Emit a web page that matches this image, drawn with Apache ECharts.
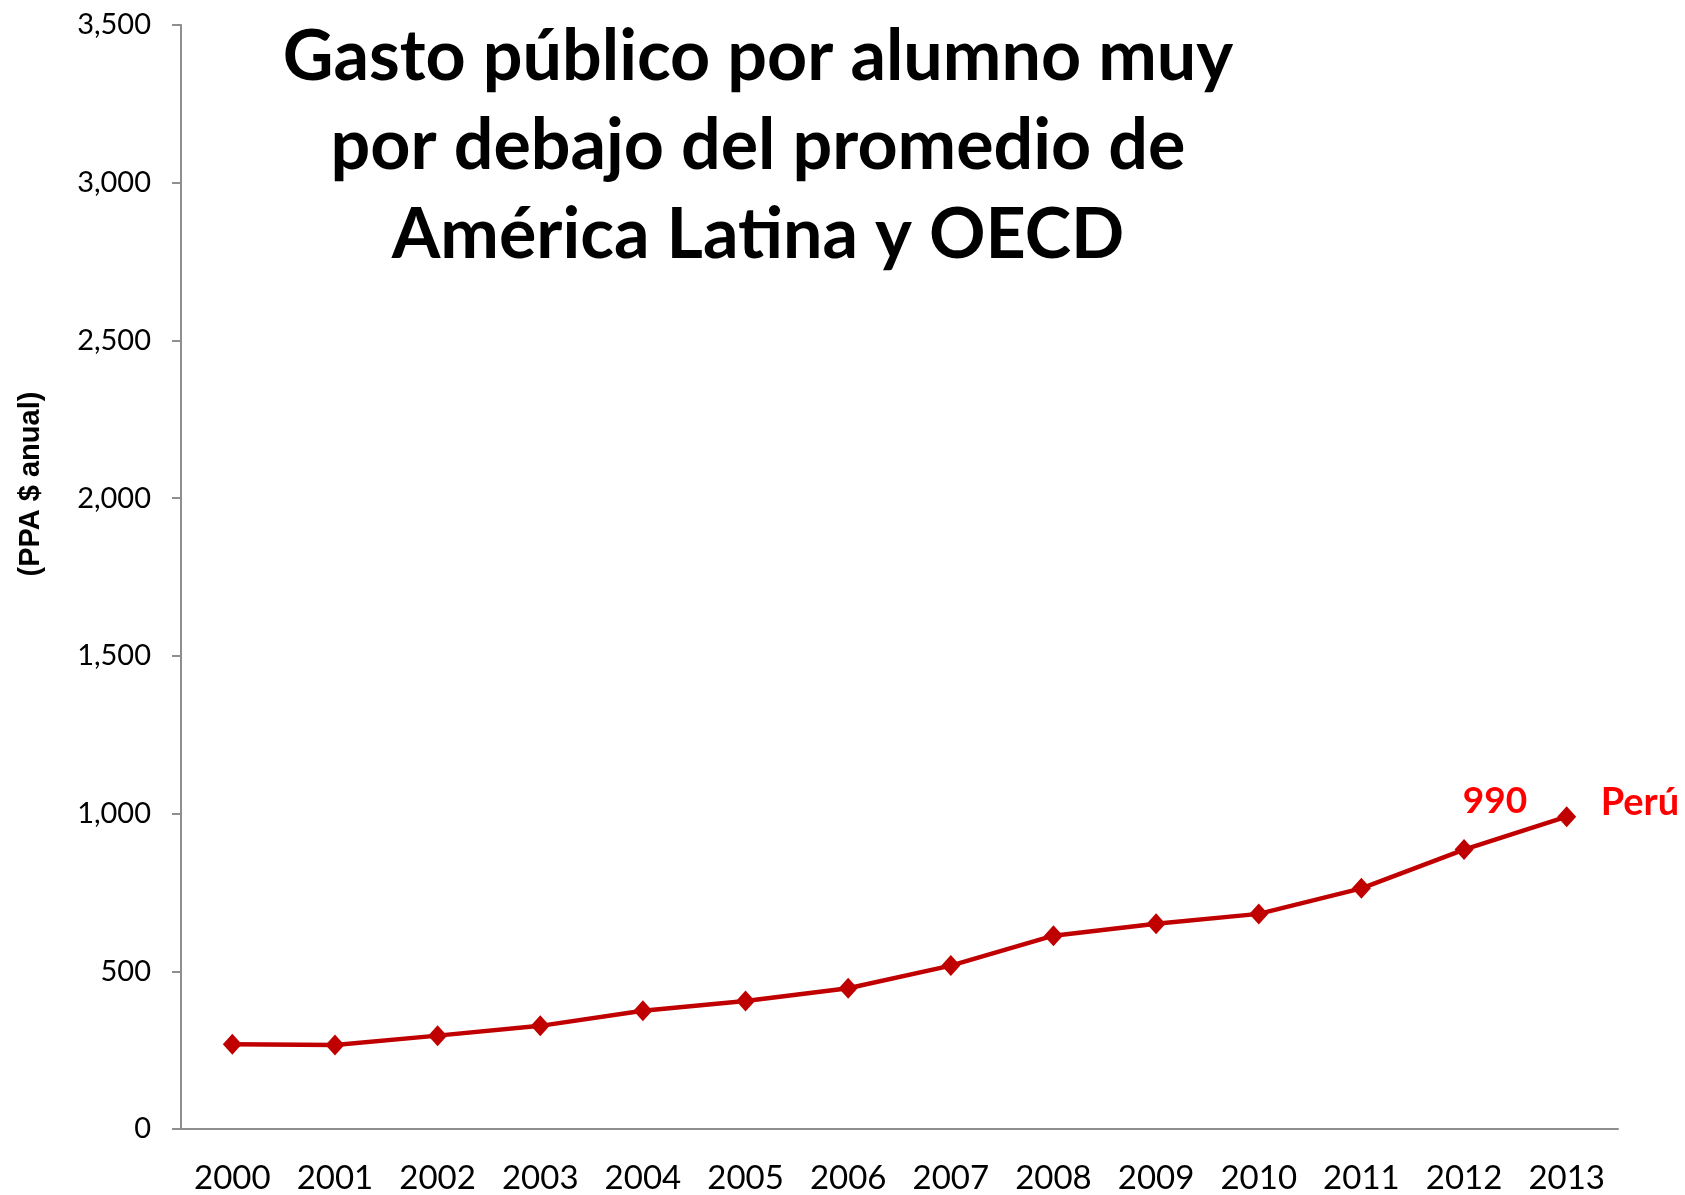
<!DOCTYPE html>
<html>
<head>
<meta charset="utf-8">
<script src="https://cdn.jsdelivr.net/npm/echarts@6/dist/echarts.min.js"></script>
<style>html,body{margin:0;padding:0;background:#fff}#c{width:1685px;height:1195px}</style>
</head>
<body>
<div id="c"></div>
<script>
const years = ['2000','2001','2002','2003','2004','2005','2006','2007','2008','2009','2010','2011','2012','2013'];
const gasto = [269, 266, 296, 327, 375, 406, 446, 518, 613, 651, 682, 763, 886, 990];
const titleLines = ['Gasto público por alumno muy', 'por debajo del promedio de', 'América Latina y OECD'];
const yAxisTitle = '(PPA $ anual)';
const seriesName = 'Perú';

const chart = echarts.init(document.getElementById('c'));
const lastIdx = gasto.length - 1;
const data = gasto.map((v, i) => i === lastIdx ? {
  value: v,
  label: {
    show: true, position: 'left', distance: 30, offset: [0, -16],
    color: '#FF0000', fontFamily: 'Lato', fontWeight: 'bold', fontSize: 37,
    formatter: p => String(p.value)
  }
} : v);

chart.setOption({
  animation: false,
  backgroundColor: '#ffffff',
  grid: { left: 181, right: 67, top: 25, bottom: 65.5 },
  xAxis: {
    type: 'category', data: years, boundaryGap: true,
    axisLine: { lineStyle: { color: '#8e8e8e', width: 2 } },
    axisTick: { length: 12, lineStyle: { color: '#8e8e8e', width: 2 } },
    axisLabel: { margin: 33, color: '#000', fontFamily: 'Lato', fontSize: 33 }
  },
  yAxis: {
    type: 'value', min: 0, max: 3500, interval: 500,
    splitLine: { show: false },
    axisLine: { show: true, lineStyle: { color: '#8e8e8e', width: 2 } },
    axisTick: { show: true, length: 9, lineStyle: { color: '#8e8e8e', width: 2 } },
    axisLabel: { margin: 30, color: '#000', fontFamily: 'Lato', fontSize: 29,
      formatter: v => v.toLocaleString('en-US') }
  },
  graphic: [
    { type: 'text', x: 758, y: 13, style: {
        text: titleLines.join('\n'), textAlign: 'center', textVerticalAlign: 'top',
        font: 'bold 70px Lato', lineHeight: 89, fill: '#000' } },
    { type: 'text', x: 31, y: 484, rotation: Math.PI / 2, style: {
        text: yAxisTitle, textAlign: 'center', textVerticalAlign: 'middle',
        font: 'bold 29px "Liberation Sans", Arial', fill: '#000' } }
  ],
  series: [{
    name: seriesName, type: 'line', data: data,
    symbol: 'diamond', symbolSize: [19, 21],
    itemStyle: { color: '#C00000' },
    lineStyle: { color: '#C00000', width: 4.5 },
    endLabel: { show: true, formatter: seriesName, distance: 34, offset: [0, -14],
      color: '#FF0000', fontFamily: 'Lato', fontWeight: 'bold', fontSize: 38 }
  }]
});
</script>
</body>
</html>
